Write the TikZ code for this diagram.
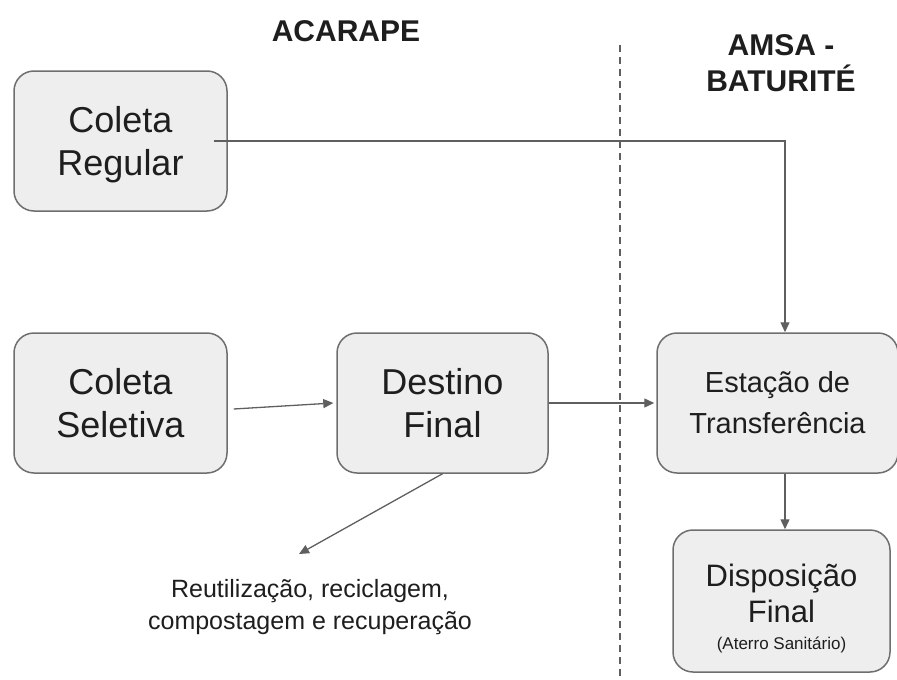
\documentclass[tikz,border=0pt]{standalone}
\usepackage{fontspec}
\setmainfont{Liberation Sans}
\usetikzlibrary{calc,arrows.meta}
\definecolor{boxfill}{HTML}{EEEEEE}
\definecolor{boxline}{HTML}{6E6E6E}
\definecolor{arrowc}{HTML}{5F5F5F}
\definecolor{txt}{HTML}{1E1E1E}
\begin{document}
\begin{tikzpicture}[x=1pt,y=-1pt,
  box/.style={draw=boxline, line width=1.5pt, fill=boxfill, rounded corners=20pt,
    align=center, inner sep=0pt, text=txt},
  bigtxt/.style={font=\fontsize{36}{43}\selectfont},
  conn/.style={draw=arrowc, line width=1.3pt, -{Triangle[length=10pt,width=9pt]}},
  title/.style={font=\bfseries\fontsize{30}{36}\selectfont, text=txt, align=center}]
\useasboundingbox (0,0) rectangle (897,680);
% divider
\coordinate (dtop) at (620,45);
\coordinate (dbot) at (620,680);
\draw[arrowc, line width=1.2pt, dash pattern=on 7pt off 5pt] (dtop) -- (dbot);
% titles
\node[title] (acarape) at (346,31) {ACARAPE};
\node[title] (amsa) at (781,63) {AMSA -\\BATURITÉ};
% boxes
\node[box, minimum width=213pt, minimum height=140pt] (reg) at (120.5,141) {};
\node[bigtxt, text=txt, align=center, inner sep=0pt] (regtxt) at ([yshift=-4pt]reg.center) {Coleta\\Regular};
\node[box, bigtxt, minimum width=213pt, minimum height=140pt] (sel) at (120.5,403) {Coleta\\Seletiva};
\node[box, bigtxt, minimum width=211pt, minimum height=140pt] (dest) at (442.5,403) {Destino\\Final};
\node[box, font=\fontsize{29}{41}\selectfont, minimum width=241pt, minimum height=140pt] (est) at (777.5,403) {Estação de\\Transferência};
\node[box, minimum width=217pt, minimum height=142pt] (disp) at (781.5,601) {};
\node[text=txt, align=center, inner sep=0pt, font=\fontsize{31}{36}\selectfont] (disptxt) at ([yshift=-8pt]disp.center)
  {Disposição\\Final\\[-9pt]{\fontsize{17}{20}\selectfont (Aterro Sanitário)}};
\node[text=txt, align=center, font=\fontsize{25}{32}\selectfont] (reuse) at (310,607)
  {Reutilização, reciclagem,\\compostagem e recuperação};
\coordinate (reusetip) at (299,554);
% connectors
\draw[conn] ([xshift=-14pt]reg.east) -| ([xshift=7.5pt]est.north);
\draw[conn] ([xshift=6pt,yshift=-6pt]sel.east) -- ([xshift=-3pt]dest.west);
\draw[conn] (dest.east) -- ([xshift=-2pt]est.west);
\draw[conn] ([xshift=7.5pt]est.south) -- ([xshift=7.5pt]est.south |- disp.north);
\draw[conn] (dest.south) -- (reusetip);
\end{tikzpicture}
\end{document}
